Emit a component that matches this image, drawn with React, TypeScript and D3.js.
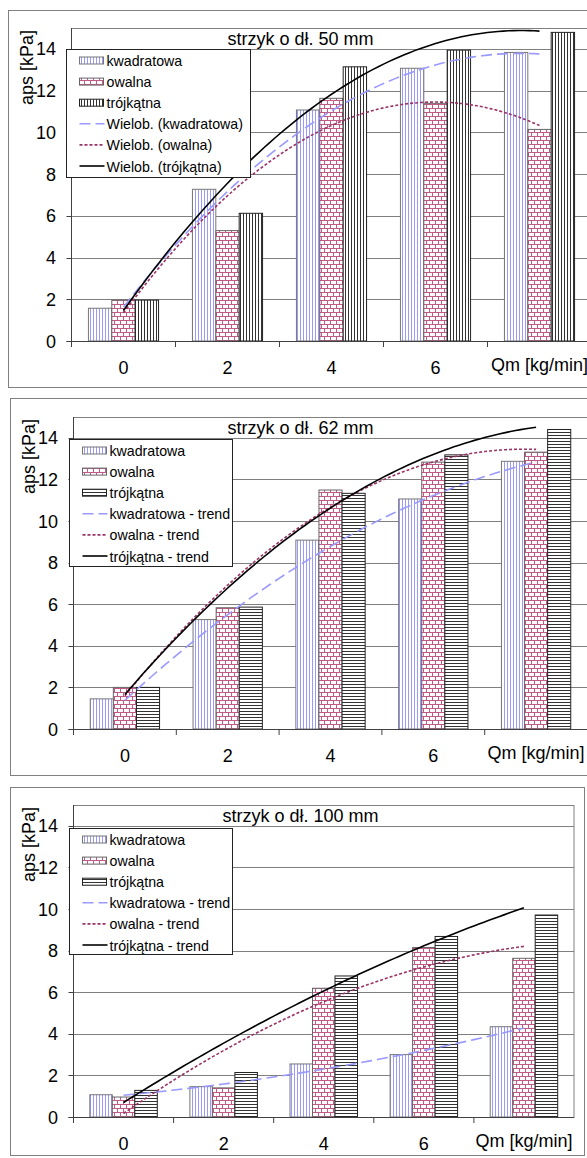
import React from 'react';
import * as d3 from 'd3';

// categories on the x axis (Qm [kg/min]); the last label is covered by the axis title
const categories = ['0', '2', '4', '6', '8'];
const xTickLabels = ['0', '2', '4', '6', ''];
const yTicks = [0, 2, 4, 6, 8, 10, 12, 14];
const seriesNames = ['kwadratowa', 'owalna', 'trójkątna'];

// strzyk o dł. 50 mm
const kwadratowa50 = [1.57, 7.27, 11.07, 13.07, 13.83];
const owalna50 = [1.96, 5.29, 11.63, 11.39, 10.14];
const trojkatna50 = [1.96, 6.12, 13.14, 13.94, 14.79];

// strzyk o dł. 62 mm
const kwadratowa62 = [1.45, 5.26, 9.08, 11.06, 12.87];
const owalna62 = [2.0, 5.83, 11.49, 12.83, 13.31];
const trojkatna62 = [2.0, 5.86, 11.33, 13.18, 14.4];

// strzyk o dł. 100 mm
const kwadratowa100 = [1.07, 1.46, 2.55, 3.0, 4.34];
const owalna100 = [0.96, 1.4, 6.19, 8.15, 7.63];
const trojkatna100 = [1.28, 2.14, 6.78, 8.68, 9.71];

const titles = ['strzyk o dł. 50 mm', 'strzyk o dł. 62 mm', 'strzyk o dł. 100 mm'];
const trendNames50 = ['Wielob. (kwadratowa)', 'Wielob. (owalna)', 'Wielob. (trójkątna)'];
const trendNamesOther = ['kwadratowa - trend', 'owalna - trend', 'trójkątna - trend'];

const FONT = 'Arial, "Liberation Sans", sans-serif';

const layouts = [
  {
    frame: { x: 8.5, y: 10.5, w: 620, h: 377 },
    plot: { left: 71.5, top: 28, width: 520, height: 313 },
    legend: { x: 66.5, y: 49.5, w: 184, h: 128 },
  },
  {
    frame: { x: 10.5, y: 398.5, w: 620, h: 377 },
    plot: { left: 73.5, top: 417, width: 514, height: 312 },
    legend: { x: 69.5, y: 439.5, w: 163, h: 127 },
  },
  {
    frame: { x: 10.5, y: 787.5, w: 574, h: 368 },
    plot: { left: 73.5, top: 805, width: 500.5, height: 312 },
    legend: { x: 69.5, y: 828.5, w: 163, h: 126 },
  },
];

// least squares polynomial of order 2 (Excel "Wielomianowy" trend)
function quadFit(ys: number[]) {
  const xs = ys.map((_, i) => i + 1);
  const s = (f: (x: number, y: number) => number) => d3.sum(xs, (x, i) => f(x, ys[i]));
  const A = [
    [xs.length, s((x) => x), s((x) => x * x)],
    [s((x) => x), s((x) => x * x), s((x) => x ** 3)],
    [s((x) => x * x), s((x) => x ** 3), s((x) => x ** 4)],
  ];
  const B = [s((x, y) => y), s((x, y) => x * y), s((x, y) => x * x * y)];
  for (let i = 0; i < 3; i++) {
    for (let j = i + 1; j < 3; j++) {
      const f = A[j][i] / A[i][i];
      for (let k = i; k < 3; k++) A[j][k] -= f * A[i][k];
      B[j] -= f * B[i];
    }
  }
  const c = [0, 0, 0];
  for (let i = 2; i >= 0; i--) {
    let v = B[i];
    for (let k = i + 1; k < 3; k++) v -= A[i][k] * c[k];
    c[i] = v / A[i][i];
  }
  return (x: number) => c[0] + c[1] * x + c[2] * x * x;
}

const barFills = ['url(#pKw)', 'url(#pBrick)', ''];
const barStrokes = ['#777', '#666', '#222'];
const trendStyles = [
  { stroke: '#9999ff', dash: '11,5' },
  { stroke: '#993366', dash: '3,2' },
  { stroke: '#000', dash: '' },
];

function Panel({ idx, values, trendNames, triPattern }: any) {
  const { frame, plot, legend } = layouts[idx];
  const bottom = plot.top + plot.height;
  const x = d3.scaleBand().domain(categories).range([plot.left, plot.left + plot.width]).padding(0);
  const xs = d3.scaleBand().domain(seriesNames).range([0, x.bandwidth()]).paddingInner(0).paddingOuter(0.725);
  const y = d3.scaleLinear().domain([0, 15]).range([bottom, plot.top]);
  const fills = [barFills[0], barFills[1], triPattern];

  const line = d3.line<[number, number]>().x((d) => d[0]).y((d) => d[1]);
  const trends = values.map((vals: number[]) => {
    const f = quadFit(vals);
    const pts = d3.range(1, 5.001, 0.05).map((t) => [
      plot.left + (t - 0.5) * x.bandwidth(),
      y(f(t)),
    ]) as [number, number][];
    return line(pts);
  });

  return (
    <g>
      <rect x={frame.x} y={frame.y} width={frame.w} height={frame.h} fill="#fff" stroke="#808080" />
      {/* plot area */}
      <rect x={plot.left} y={plot.top + 0.5} width={plot.width} height={plot.height} fill="#fff" stroke="#808080" />
      {yTicks.slice(1).map((t) => (
        <line key={t} x1={plot.left} x2={plot.left + plot.width} y1={Math.round(y(t)) + 0.5} y2={Math.round(y(t)) + 0.5} stroke="#7f7f7f" />
      ))}
      {/* bars */}
      {seriesNames.map((s, si) =>
        values[si].map((v: number, ci: number) => (
          <rect
            key={s + ci}
            x={(x(categories[ci]) as number) + (xs(s) as number)}
            y={y(v)}
            width={xs.bandwidth()}
            height={y(0) - y(v)}
            fill={fills[si]}
            stroke={barStrokes[si]}
          />
        ))
      )}
      {/* trend lines */}
      {trends.map((d: string, i: number) => (
        <path key={i} d={d} fill="none" stroke={trendStyles[i].stroke} strokeWidth={1.6} strokeDasharray={trendStyles[i].dash} />
      ))}
      {/* axes */}
      <line x1={plot.left} x2={plot.left} y1={plot.top} y2={bottom} stroke="#404040" />
      <line x1={plot.left - 5} x2={plot.left + plot.width} y1={bottom + 0.5} y2={bottom + 0.5} stroke="#404040" />
      {yTicks.map((t) => (
        <g key={t}>
          <line x1={plot.left - 5} x2={plot.left} y1={Math.round(y(t)) + 0.5} y2={Math.round(y(t)) + 0.5} stroke="#404040" />
          <text x={plot.left - 15.5} y={y(t) + 6.5} textAnchor="end" fontSize={18} fontFamily={FONT}>
            {t}
          </text>
        </g>
      ))}
      {categories.map((c, i) => (
        <g key={c}>
          <line x1={x(c) as number} x2={x(c) as number} y1={bottom} y2={bottom + 6} stroke="#404040" />
          <text x={(x(c) as number) + x.bandwidth() / 2} y={bottom + 33} textAnchor="middle" fontSize={18} fontFamily={FONT}>
            {xTickLabels[i]}
          </text>
        </g>
      ))}
      <text x={(x('8') as number) + x.bandwidth() / 2} y={bottom + 30} textAnchor="middle" fontSize={18} fontFamily={FONT}>
        Qm [kg/min]
      </text>
      <text
        transform={`translate(${frame.x + 24.5},${plot.top + 77}) rotate(-90)`}
        textAnchor="start"
        fontSize={18}
        fontFamily={FONT}
      >
        aps [kPa]
      </text>
      {/* legend */}
      <rect x={legend.x} y={legend.y} width={legend.w} height={legend.h} fill="#fff" stroke="#222" />
      {seriesNames.map((s, i) => {
        const cy = legend.y + 11 + 21.1 * i;
        return (
          <g key={s}>
            <rect x={legend.x + 13} y={cy - 3.5} width={24} height={7} fill={fills[i]} stroke={barStrokes[i]} />
            <text x={legend.x + 40} y={cy + 5.5} fontSize={14.2} fontFamily={FONT}>
              {s}
            </text>
          </g>
        );
      })}
      {trendNames.map((s: string, i: number) => {
        const cy = legend.y + 11 + 21.1 * (i + 3);
        return (
          <g key={s}>
            <line x1={legend.x + 13} x2={legend.x + 38} y1={cy} y2={cy} stroke={trendStyles[i].stroke} strokeWidth={1.6} strokeDasharray={trendStyles[i].dash} />
            <text x={legend.x + 40} y={cy + 5.5} fontSize={14.2} fontFamily={FONT}>
              {s}
            </text>
          </g>
        );
      })}
      <text x={300.5} y={plot.top + 16.5} textAnchor="middle" fontSize={18} fontFamily={FONT}>
        {titles[idx]}
      </text>
    </g>
  );
}

export default function App() {
  return (
    <svg width={587} height={1158} style={{ position: 'absolute', left: 0, top: 0, background: '#fff' }}>
      <defs>
        <pattern id="pKw" width={3} height={4} patternUnits="userSpaceOnUse">
          <rect width={3} height={4} fill="#fff" />
          <line x1={0.5} x2={0.5} y1={0} y2={4} stroke="#9999ff" />
        </pattern>
        <pattern id="pBrick" width={6} height={8} patternUnits="userSpaceOnUse">
          <rect width={6} height={8} fill="#fff" />
          <path d="M0,0.5H6M0,4.5H6M0.5,0V4M3.5,4V8" stroke="#c25a85" fill="none" />
        </pattern>
        <pattern id="pVert" width={3} height={4} patternUnits="userSpaceOnUse">
          <rect width={3} height={4} fill="#fff" />
          <line x1={0.5} x2={0.5} y1={0} y2={4} stroke="#333" />
        </pattern>
        <pattern id="pHoriz" width={4} height={3} patternUnits="userSpaceOnUse">
          <rect width={4} height={3} fill="#fff" />
          <line x1={0} x2={4} y1={0.5} y2={0.5} stroke="#333" />
        </pattern>
      </defs>
      <Panel idx={0} values={[kwadratowa50, owalna50, trojkatna50]} trendNames={trendNames50} triPattern="url(#pVert)" />
      <Panel idx={1} values={[kwadratowa62, owalna62, trojkatna62]} trendNames={trendNamesOther} triPattern="url(#pHoriz)" />
      <Panel idx={2} values={[kwadratowa100, owalna100, trojkatna100]} trendNames={trendNamesOther} triPattern="url(#pHoriz)" />
    </svg>
  );
}
